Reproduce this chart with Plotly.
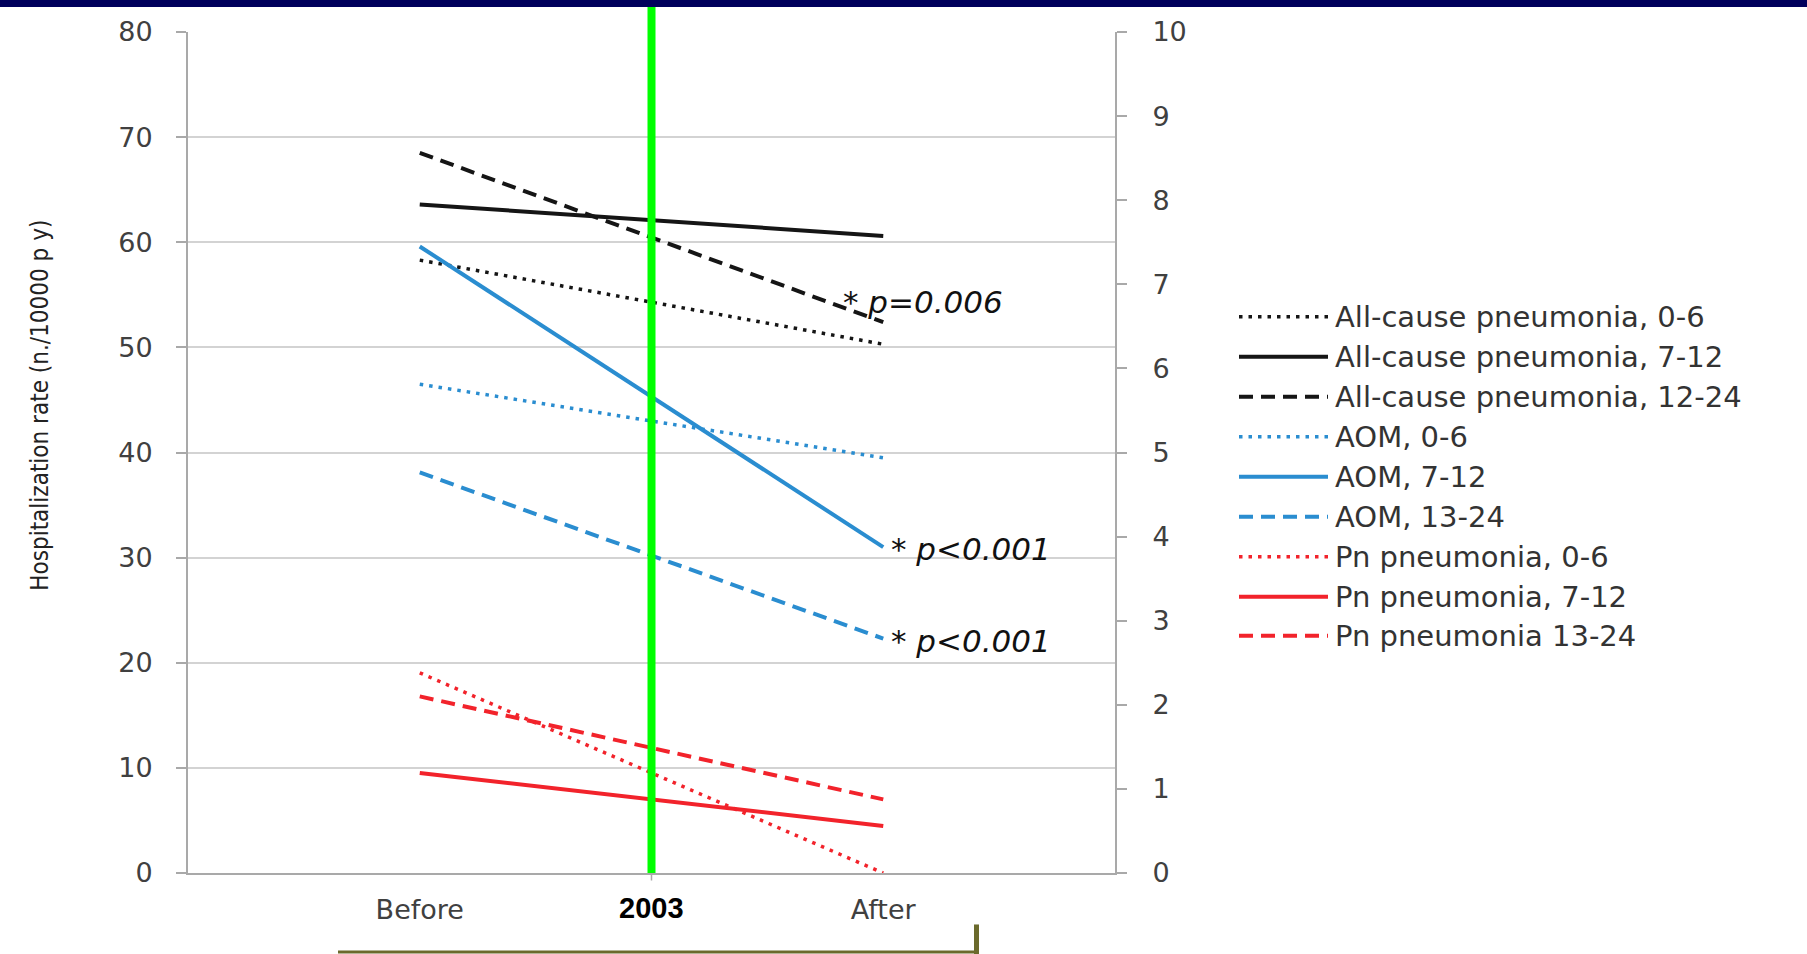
import plotly.graph_objects as go

# ---------------- data ----------------
periods = ["Before", "After"]
split_label = "2003"

allcause_names = ["All-cause pneumonia, 0-6", "All-cause pneumonia, 7-12", "All-cause pneumonia, 12-24"]
allcause_values = [[58.3, 50.3], [63.6, 60.6], [68.5, 52.4]]

aom_names = ["AOM, 0-6", "AOM, 7-12", "AOM, 13-24"]
aom_values = [[46.5, 39.5], [59.6, 31.0], [38.1, 22.3]]

# Pn pneumonia series are read on the right-hand axis (0-10)
pn_names = ["Pn pneumonia, 0-6", "Pn pneumonia, 7-12", "Pn pneumonia 13-24"]
pn_values = [[2.38, 0.0], [1.19, 0.56], [2.1, 0.875]]

left_ticks = list(range(0, 81, 10))
right_ticks = list(range(0, 11))

pvalue_series = ["All-cause pneumonia, 12-24", "AOM, 7-12", "AOM, 13-24"]
pvalue_texts = ["* p=0.006", "* p<0.001", "* p<0.001"]

y_title = "Hospitalization rate (n./10000 p y)"

# ---------------- styles ----------------
BLACK = "#151515"
BLUE = "#2a8dd0"
RED = "#f2232b"
dash_styles = ["3.5px,6px", "solid", "14px,8px"]
GRID = "#d3d3d3"
AXIS = "#a9a9a9"
TICKFONT = dict(family="DejaVu Sans, Verdana, sans-serif", size=27, color="#404040")

# plot area geometry in pixels (for paper-coordinate decorations)
W, H = 1807, 954
L, R, T, B = 188, 1115, 32, 873.5
PW, PH = R - L, B - T


def px_x(px):
    return (px - L) / PW


def px_y(py):
    return (B - py) / PH


fig = go.Figure()

groups = [
    (allcause_names, allcause_values, BLACK, "y"),
    (aom_names, aom_values, BLUE, "y"),
    (pn_names, pn_values, RED, "y2"),
]
series_lookup = {}
for names, values, color, yax in groups:
    for name, vals, dash in zip(names, values, dash_styles):
        fig.add_trace(go.Scatter(
            x=periods, y=vals, name=name, mode="lines", yaxis=yax,
            line=dict(color=color, width=4 if dash != "3.5px,6px" else 3.5, dash=dash),
            showlegend=False,
        ))
        series_lookup[name] = (vals, yax)

shapes = []
annotations = []

# manual legend (long line samples as in the reference)
legend_rows = [317, 357, 397, 437, 477, 517, 557, 597, 636]
legend_items = []
for names, values, color, yax in groups:
    for name, dash in zip(names, dash_styles):
        legend_items.append((name, color, dash))
for (name, color, dash), row in zip(legend_items, legend_rows):
    shapes.append(dict(type="line", xref="paper", yref="paper",
                       x0=px_x(1239), x1=px_x(1328), y0=px_y(row), y1=px_y(row),
                       line=dict(color=color, width=4 if dash != "3.5px,6px" else 3.5, dash=dash)))
    annotations.append(dict(xref="paper", yref="paper", x=px_x(1333), y=px_y(row),
                            xanchor="left", yanchor="middle", showarrow=False, text=name,
                            font=dict(family="DejaVu Sans, Verdana, sans-serif", size=29, color="#333333")))

# p-value annotations at the "After" end of the series
for sname, txt in zip(pvalue_series, pvalue_texts):
    vals, yax = series_lookup[sname]
    if txt.startswith("* p="):
        xs, ys = -42, 20
    else:
        xs, ys = 6, -2
    annotations.append(dict(x=periods[-1], y=vals[-1], xref="x", yref=yax,
                            text=txt, showarrow=False, xanchor="left", yanchor="middle",
                            xshift=xs, yshift=ys,
                            font=dict(family="DejaVu Sans, Verdana, sans-serif", size=31,
                                      color="#111111", style="italic")))

# y-axis title
annotations.append(dict(xref="paper", yref="paper", x=px_x(40), y=px_y(406),
                        text=y_title, textangle=-90, showarrow=False,
                        xanchor="center", yanchor="middle",
                        font=dict(family="DejaVu Sans Condensed, Liberation Sans Narrow, DejaVu Sans, sans-serif",
                                  size=24, color="#222222")))

# split year label
annotations.append(dict(xref="x", yref="paper", x=0.5, y=px_y(909),
                        text="<b>" + split_label + "</b>", showarrow=False,
                        xanchor="center", yanchor="middle",
                        font=dict(family="Liberation Sans, Arial, sans-serif", size=29, color="#000000")))

# green split line
shapes.append(dict(type="line", xref="x", yref="paper", x0=0.5, x1=0.5,
                   y0=0, y1=px_y(7), line=dict(color="#00ff00", width=8), layer="above"))
# small middle tick below axis
shapes.append(dict(type="line", xref="x", yref="paper", x0=0.5, x1=0.5,
                   y0=0, y1=px_y(881), line=dict(color=AXIS, width=1.5)))
# navy band at top
shapes.append(dict(type="rect", xref="paper", yref="paper", x0=px_x(-5), x1=px_x(W + 5),
                   y0=px_y(7), y1=px_y(-5), line=dict(width=0), fillcolor="#00005c"))
# olive bracket at bottom
shapes.append(dict(type="line", xref="paper", yref="paper", x0=px_x(338), x1=px_x(979),
                   y0=px_y(952.5), y1=px_y(952.5), line=dict(color="#6b6a2c", width=3)))
shapes.append(dict(type="line", xref="paper", yref="paper", x0=px_x(976.5), x1=px_x(976.5),
                   y0=px_y(925), y1=px_y(956), line=dict(color="#6b6a2c", width=5)))

fig.update_layout(
    width=W, height=H,
    margin=dict(l=L, r=W - R, t=T, b=H - B, pad=0),
    paper_bgcolor="white", plot_bgcolor="white",
    showlegend=False,
    xaxis=dict(type="category", range=[-0.5, 1.5], showline=True, linecolor=AXIS, linewidth=2,
               showgrid=False, ticks="", tickfont=TICKFONT, ticklabelstandoff=12, zeroline=False),
    yaxis=dict(range=[0, 80], tickvals=left_ticks, showgrid=True, gridcolor=GRID, gridwidth=2,
               showline=True, linecolor=AXIS, linewidth=2, ticks="outside", ticklen=10,
               tickcolor=AXIS, tickwidth=1.5, tickfont=TICKFONT, ticklabelstandoff=18,
               zeroline=False),
    yaxis2=dict(range=[0, 10], tickvals=right_ticks, overlaying="y", side="right",
                showgrid=False, showline=True, linecolor=AXIS, linewidth=2, ticks="outside",
                ticklen=10, tickcolor=AXIS, tickwidth=1.5, tickfont=TICKFONT,
                ticklabelstandoff=20, zeroline=False),
    shapes=shapes,
    annotations=annotations,
)

fig.write_html("out.html",
               config={"displayModeBar": False},
               post_script="document.body.style.margin='0';document.body.style.overflow='hidden';")
